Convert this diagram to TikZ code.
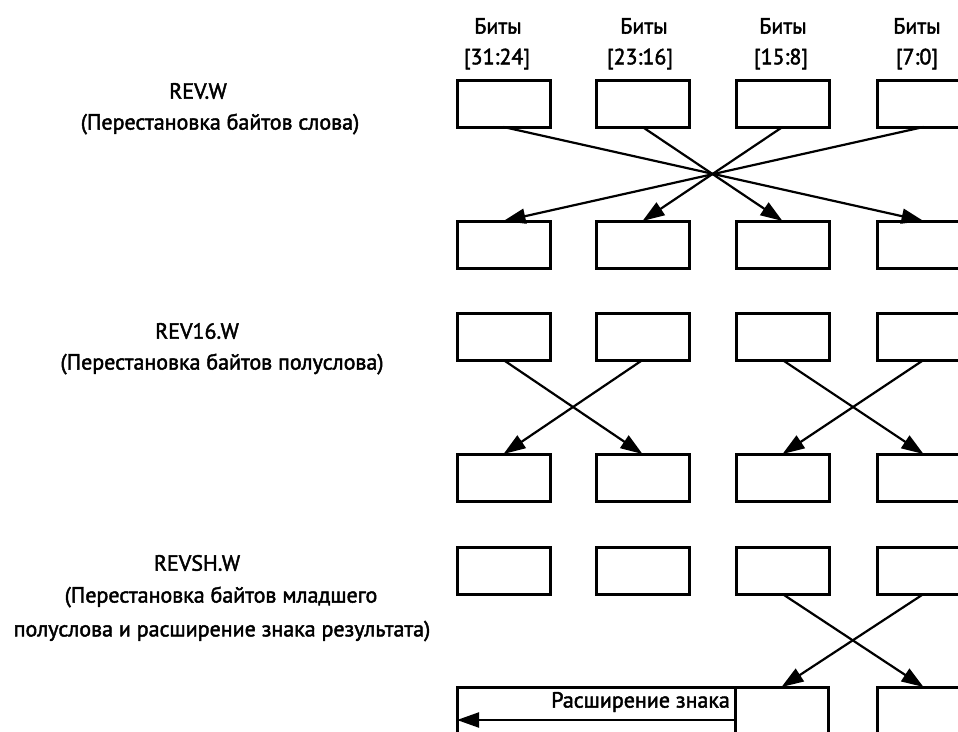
\documentclass[tikz,border=0pt]{standalone}
\usepackage{fontspec}
\setmainfont{PT Sans}
\newfontfamily\semib{PT Sans}[FakeBold=2]
\usetikzlibrary{arrows.meta}
\begin{document}
\begin{tikzpicture}[x=1pt,y=-1pt,
  box/.style={draw, line width=3pt, minimum width=93pt, minimum height=47pt, anchor=north west, inner sep=0pt, outer sep=0pt},
  arr/.style={line width=2.2pt, -{Triangle[length=22pt,width=15pt]}},
  lbl/.style={font=\semib\fontsize{22}{26}\selectfont, inner sep=0pt, anchor=center},
]
\useasboundingbox (0,0) rectangle (958,731);
\clip (0,0) rectangle (958,731);
% header labels
\node[lbl] (b1) at (498,26) {Биты};
\node[lbl] (n1) at (497,59) {[31:24]};
\node[lbl] (b2) at (644,26) {Биты};
\node[lbl] (n2) at (640,59) {[23:16]};
\node[lbl] (b3) at (783,26) {Биты};
\node[lbl] (n3) at (781,59) {[15:8]};
\node[lbl] (b4) at (917,26) {Биты};
\node[lbl] (n4) at (917,59) {[7:0]};
% left labels
\node[lbl] (t1) at (198,91) {REV.W};
\node[lbl] (d1) at (220,124) {(Перестановка байтов слова)};
\node[lbl] (t2) at (197,331) {REV16.W};
\node[lbl] (d2) at (222,364) {(Перестановка байтов полуслова)};
\node[lbl] (t3) at (197,563) {REVSH.W};
\node[lbl] (d3a) at (221,597) {(Перестановка байтов младшего};
\node[lbl] (d3b) at (222,631) {полуслова и расширение знака результата)};
% boxes
\foreach \r/\y in {1/80,2/221,3/313,4/454,5/547}
  \foreach \c/\x in {1/457,2/596,3/736,4/877}
    \node[box] (r\r c\c) at (\x,\y) {};
\node[box, minimum width=278pt] (ext) at (457,687) {};
\node[box] (r6c3) at (735,687) {};
\node[box] (r6c4) at (877,687) {};
\node[lbl, anchor=east] (extt) at (730,702) {Расширение знака};
\coordinate (extR) at (735,720);
\coordinate (extL) at (457,720);
% REV.W
\draw[arr] (r1c1.south) -- (r2c4.north);
\draw[arr] (r1c4.south) -- (r2c1.north);
\draw[arr] (r1c2.south) -- (r2c3.north);
\draw[arr] (r1c3.south) -- (r2c2.north);
% REV16.W
\draw[arr] (r3c1.south) -- (r4c2.north);
\draw[arr] (r3c2.south) -- (r4c1.north);
\draw[arr] (r3c3.south) -- (r4c4.north);
\draw[arr] (r3c4.south) -- (r4c3.north);
% REVSH.W
\draw[arr] (r5c3.south) -- (r6c4.north);
\draw[arr] (r5c4.south) -- (r6c3.north);
\draw[arr] (extR) -- (extL);
\end{tikzpicture}
\end{document}
